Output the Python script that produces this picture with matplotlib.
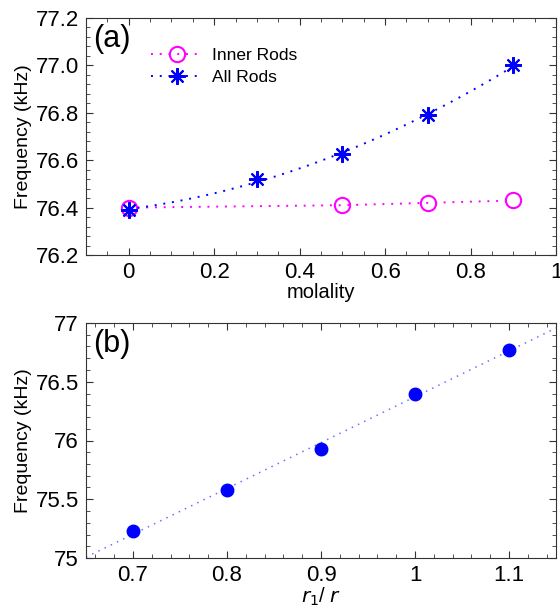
import matplotlib.pyplot as plt
from matplotlib.ticker import MultipleLocator
import numpy as np

plt.rcParams['font.family'] = ['Liberation Sans', 'DejaVu Sans']

# (a) frequency vs molality
molality_inner = [0, 0.5, 0.7, 0.9]
freq_inner = [76.40, 76.41, 76.42, 76.43]
molality_all = [0, 0.3, 0.5, 0.7, 0.9]
freq_all = [76.39, 76.52, 76.625, 76.79, 77.00]

# (b) frequency vs r1/r
ratio = [0.7, 0.8, 0.9, 1.0, 1.1]
freq_ratio = [75.23, 75.58, 75.93, 76.40, 76.77]

fig = plt.figure(figsize=(5.6, 6.15), dpi=100)
ax1 = fig.add_axes([86/560, 1 - 255/615, 470/560, 237/615])
ax2 = fig.add_axes([86/560, 1 - 558/615, 470/560, 235/615])

star = (8, 2, 0)
dots = (0, (1, 3.5))

# top panel
ax1.plot(molality_inner, freq_inner, linestyle=dots, color='magenta', lw=1.4,
         marker='o', ms=11, mfc='none', mec='magenta', mew=1.5, label='Inner Rods')
coef = np.polyfit(molality_all, freq_all, 2)
xs = np.linspace(min(molality_all), max(molality_all), 100)
ax1.plot(xs, np.polyval(coef, xs), linestyle=dots, color='blue', lw=1.4)
ax1.plot(molality_all, freq_all, linestyle='none', marker=star, ms=12,
         mew=1.5, mec='blue')
ax1.plot([], [], linestyle=dots, color='blue', lw=1.4, marker=star, ms=12, mew=1.5,
         mec='blue', label='All Rods')
ax1.set_xlim(-0.1, 1.0)
ax1.set_ylim(76.2, 77.2)
ax1.set_xticks([0, 0.2, 0.4, 0.6, 0.8, 1.0])
ax1.set_xticklabels(['0', '0.2', '0.4', '0.6', '0.8', '1'])
ax1.set_yticks([76.2, 76.4, 76.6, 76.8, 77.0, 77.2])
ax1.set_yticklabels(['76.2', '76.4', '76.6', '76.8', '77.0', '77.2'])
ax1.xaxis.set_minor_locator(MultipleLocator(0.05))
ax1.yaxis.set_minor_locator(MultipleLocator(0.04))
ax1.set_xlabel('molality', fontsize=14.5, labelpad=0)
ax1.set_ylabel('Frequency (kHz)', fontsize=14, labelpad=3)
ax1.text(0.015, 0.975, '(a)', transform=ax1.transAxes, fontsize=22, va='top')
ax1.legend(loc='upper left', bbox_to_anchor=(0.105, 0.94), frameon=False,
           fontsize=12.5, handlelength=3.0, handletextpad=0.5, labelspacing=0.4)

# bottom panel
lin = np.polyfit(ratio, freq_ratio, 1)
xl = np.array([0.65, 1.15])
ax2.plot(xl, np.polyval(lin, xl), linestyle=dots, color='#7070ff', lw=1.1)
ax2.plot(ratio, freq_ratio, 'o', color='blue', ms=9)
ax2.set_xlim(0.65, 1.15)
ax2.set_ylim(75, 77)
ax2.set_xticks([0.7, 0.8, 0.9, 1.0, 1.1])
ax2.set_xticklabels(['0.7', '0.8', '0.9', '1', '1.1'])
ax2.set_yticks([75, 75.5, 76, 76.5, 77])
ax2.set_yticklabels(['75', '75.5', '76', '76.5', '77'])
ax2.xaxis.set_minor_locator(MultipleLocator(0.02))
ax2.yaxis.set_minor_locator(MultipleLocator(0.1))
ax2.set_xlabel(r'$r_1$/ $r$', fontsize=14.5, labelpad=0)
ax2.set_ylabel('Frequency (kHz)', fontsize=14, labelpad=3)
ax2.text(0.015, 0.975, '(b)', transform=ax2.transAxes, fontsize=22, va='top')

for ax in (ax1, ax2):
    ax.tick_params(which='both', direction='in', top=True, right=True,
                   labelsize=16, color='#333333')
    ax.tick_params(which='major', length=5, pad=5)
    ax.tick_params(which='minor', length=3)
    for s in ax.spines.values():
        s.set_color('#333333')

fig.savefig('out.png', dpi=100)
